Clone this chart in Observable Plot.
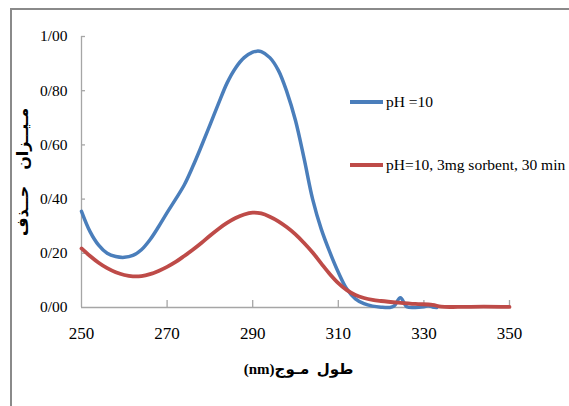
<!DOCTYPE html>
<html>
<head>
<meta charset="utf-8">
<script src="https://cdn.jsdelivr.net/npm/d3@7"></script>
<script src="https://cdn.jsdelivr.net/npm/@observablehq/plot@0.6"></script>
<style>
  html, body { margin: 0; padding: 0; background: #fff; overflow: hidden; }
  #wrap { position: relative; width: 569px; height: 406px; overflow: hidden; }
  #frame { position: absolute; left: 10px; top: 8px; width: 640px; height: 480px; border: 2px solid #8a8a8a; box-sizing: border-box; }
  #chart { position: absolute; left: 0; top: 0; }
  .legend { position: absolute; left: 350px; font-family: "Liberation Serif", "Times New Roman", Times, serif; font-size: 15.5px; color: #000; white-space: nowrap; }
  .legend .sw { display: inline-block; width: 33px; height: 4px; vertical-align: middle; margin-right: 3px; position: relative; top: -1px; }
</style>
</head>
<body>
<div id="wrap">
  <div id="frame"></div>
  <div id="chart"></div>
  <div id="legend"></div>
</div>
<script>
// Series names
const seriesNames = ["pH =10", "pH=10, 3mg sorbent, 30 min"];
const seriesColors = ["#4a7ebb", "#be4b48"];

// Blue series: pH = 10
const blueX = [250,252,254,256,258,260,262,264,266,268,270,272,274,276,278,280,282,284,286,288,290,291,292,294,296,298,300,302,304,306,308,310,312,314,316,318,320,322,323,324.5,326,328,330,331,332,333];
const blueY = [0.355,0.28,0.23,0.20,0.188,0.185,0.192,0.213,0.25,0.298,0.35,0.40,0.452,0.52,0.595,0.673,0.752,0.828,0.884,0.922,0.942,0.946,0.944,0.922,0.875,0.795,0.69,0.55,0.40,0.29,0.205,0.13,0.068,0.032,0.014,0.005,0.001,0.0,0.005,0.036,0.003,0.0,0.003,0.006,0.002,0.0];

// Red series: pH=10, 3mg sorbent, 30 min
const redX = [250,252,254,256,258,260,262,264,266,268,270,272,274,276,278,280,282,284,286,288,290,292,294,296,298,300,302,304,306,308,310,312,314,316,318,320,324,328,332,334,338,344,350];
const redY = [0.218,0.19,0.165,0.145,0.13,0.12,0.115,0.116,0.123,0.135,0.15,0.168,0.19,0.213,0.238,0.265,0.29,0.312,0.33,0.343,0.35,0.347,0.335,0.318,0.296,0.27,0.238,0.203,0.163,0.124,0.09,0.064,0.046,0.035,0.028,0.024,0.018,0.013,0.01,0.003,0.002,0.003,0.002];

// Ticks and labels
const xTicks = [250,270,290,310,330,350];
const yTicks = [0,0.2,0.4,0.6,0.8,1.0];
const yTickLabels = ["0/00","0/20","0/40","0/60","0/80","1/00"];
const xTitle = "طول  مـوج(nm)";
const yTitle = "مـیــزان    حــذف";

const blue = blueX.map((x, i) => ({x, y: blueY[i], s: seriesNames[0]}));
const red = redX.map((x, i) => ({x, y: redY[i], s: seriesNames[1]}));

const axisColor = "#a6a6a6";
const frameH = 271, frameW = 428;
const serif = "'Liberation Serif', 'Times New Roman', Times, 'DejaVu Sans', serif";

const chart = Plot.plot({
  width: 569,
  height: 406,
  marginLeft: 81,
  marginRight: 60,
  marginTop: 36,
  marginBottom: 99,
  style: { fontFamily: serif, background: "transparent", color: "#000" },
  x: { domain: [250, 350], label: null },
  y: { domain: [0, 1], label: null },
  marks: [
    Plot.axisX(xTicks, { tickSize: 0, tickPadding: 19, fontSize: 17, label: null, fontFamily: serif, tickFormat: d => String(d) }),
    Plot.axisY(yTicks, { tickSize: 0, tickPadding: 14, fontSize: 15.5, label: null, fontFamily: serif, tickFormat: (d, i) => yTickLabels[i] }),
    Plot.ruleY([0], { stroke: axisColor, strokeWidth: 1.3 }),
    Plot.ruleX([250], { stroke: axisColor, strokeWidth: 1.3 }),
    Plot.tickX(xTicks.slice(1), { x: d => d, stroke: axisColor, strokeWidth: 1.3, insetTop: frameH - 7 }),
    Plot.tickY(yTicks.slice(1), { y: d => d, stroke: axisColor, strokeWidth: 1.3, insetRight: frameW - 4 }),
    Plot.line(blue, { x: "x", y: "y", stroke: seriesColors[0], strokeWidth: 3.5, curve: "catmull-rom" }),
    Plot.line(red, { x: "x", y: "y", stroke: seriesColors[1], strokeWidth: 3.8, curve: "catmull-rom" }),
    Plot.text([xTitle], { text: d => d, frameAnchor: "bottom", textAnchor: "middle", dy: 66, dx: 3, fontSize: 15, fontWeight: "bold", fontFamily: serif }),
    Plot.text([yTitle], { text: d => d, frameAnchor: "left", textAnchor: "middle", dx: -59, dy: 0, rotate: -90, fontSize: 16, fontWeight: "bold", fontFamily: serif })
  ]
});

chart.querySelectorAll("text").forEach(t => {
  if (/[\u0600-\u06FF]/.test(t.textContent)) {
    t.setAttribute("direction", "rtl");
    t.style.direction = "rtl";
    t.style.unicodeBidi = "embed";
  }
});
document.getElementById("chart").appendChild(chart);

// Legend (overlay)
const legendTops = [93, 156];
const lg = document.getElementById("legend");
seriesNames.forEach((name, i) => {
  const row = document.createElement("div");
  row.className = "legend";
  row.style.top = legendTops[i] + "px";
  const sw = document.createElement("span");
  sw.className = "sw";
  sw.style.background = seriesColors[i];
  row.appendChild(sw);
  row.appendChild(document.createTextNode(name));
  lg.appendChild(row);
});
</script>
</body>
</html>
